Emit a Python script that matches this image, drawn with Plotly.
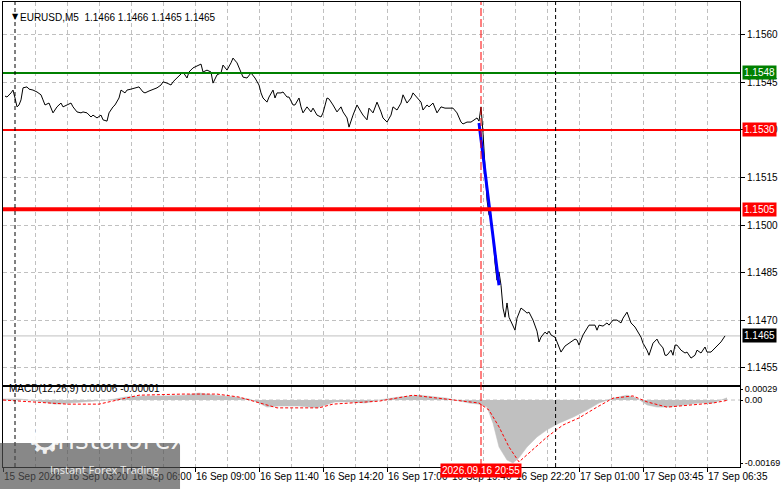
import plotly.graph_objects as go

# EURUSD M5, close prices; x = bar number from the left edge
price_points = [
    (1, 1.15407), (2, 1.15404), (4, 1.15417), (5, 1.15426), (6, 1.15401), (7, 1.15373),
    (8, 1.15379), (9, 1.15395), (10, 1.15433), (12, 1.15436), (13, 1.15429), (15, 1.15426),
    (17, 1.15420), (19, 1.15411), (20, 1.15395), (21, 1.15379), (23, 1.15385), (24, 1.15369),
    (25, 1.15354), (27, 1.15373), (29, 1.15385), (30, 1.15373), (32, 1.15379), (34, 1.15385),
    (35, 1.15373), (37, 1.15357), (39, 1.15354), (40, 1.15357), (42, 1.15354), (44, 1.15341),
    (45, 1.15347), (47, 1.15338), (49, 1.15347), (50, 1.15332), (52, 1.15328), (53, 1.15354),
    (55, 1.15373), (56, 1.15379), (58, 1.15401), (59, 1.15426), (61, 1.15417), (62, 1.15426),
    (64, 1.15429), (66, 1.15433), (68, 1.15436), (70, 1.15420), (71, 1.15417), (73, 1.15423),
    (75, 1.15429), (77, 1.15433), (79, 1.15442), (80, 1.15452), (82, 1.15448), (84, 1.15442),
    (85, 1.15452), (87, 1.15464), (89, 1.15474), (90, 1.15483), (92, 1.15464), (93, 1.15483),
    (95, 1.15496), (97, 1.15502), (99, 1.15508), (100, 1.15483), (102, 1.15489), (104, 1.15483),
    (105, 1.15448), (107, 1.15474), (109, 1.15480), (110, 1.15505), (112, 1.15489), (114, 1.15512),
    (115, 1.15527), (117, 1.15512), (119, 1.15483), (120, 1.15467), (122, 1.15464), (124, 1.15480),
    (126, 1.15464), (128, 1.15442), (129, 1.15417), (130, 1.15401), (132, 1.15388), (133, 1.15404),
    (135, 1.15426), (136, 1.15401), (137, 1.15417), (139, 1.15417), (140, 1.15420), (142, 1.15404),
    (143, 1.15404), (145, 1.15379), (146, 1.15379), (148, 1.15401), (149, 1.15373), (150, 1.15354),
    (152, 1.15373), (154, 1.15357), (155, 1.15369), (157, 1.15347), (159, 1.15341), (160, 1.15354),
    (162, 1.15401), (163, 1.15398), (165, 1.15379), (167, 1.15357), (169, 1.15373), (170, 1.15357),
    (172, 1.15338), (173, 1.15309), (175, 1.15347), (177, 1.15379), (179, 1.15357), (180, 1.15347),
    (182, 1.15332), (183, 1.15369), (185, 1.15354), (186, 1.15369), (187, 1.15388), (189, 1.15357),
    (190, 1.15338), (192, 1.15325), (194, 1.15347), (195, 1.15373), (197, 1.15363), (199, 1.15385),
    (200, 1.15411), (202, 1.15385), (204, 1.15401), (205, 1.15417), (207, 1.15404), (209, 1.15388),
    (210, 1.15363), (212, 1.15379), (213, 1.15373), (215, 1.15385), (217, 1.15354), (219, 1.15373),
    (221, 1.15369), (223, 1.15369), (225, 1.15369), (227, 1.15354), (229, 1.15325), (230, 1.15319),
    (232, 1.15325), (234, 1.15325), (236, 1.15332), (237, 1.15338), (238, 1.15328), (239, 1.15373),
    (240, 1.15291), (241, 1.15167), (242, 1.15079), (243, 1.15032), (244, 1.15022), (245, 1.14969),
    (246, 1.14880), (247, 1.14826), (248, 1.14852), (249, 1.14810), (250, 1.14738), (251, 1.14709),
    (252, 1.14754), (253, 1.14709), (255, 1.14681), (256, 1.14668), (257, 1.14706), (259, 1.14738),
    (261, 1.14728), (262, 1.14722), (263, 1.14725), (265, 1.14700), (267, 1.14665), (268, 1.14631),
    (269, 1.14646), (271, 1.14662), (272, 1.14656), (273, 1.14665), (274, 1.14653), (276, 1.14646),
    (277, 1.14631), (279, 1.14599), (281, 1.14618), (283, 1.14627), (286, 1.14640), (287, 1.14637),
    (288, 1.14621), (290, 1.14653), (292, 1.14672), (293, 1.14684), (296, 1.14684), (297, 1.14668),
    (298, 1.14684), (300, 1.14681), (302, 1.14691), (303, 1.14684), (305, 1.14700), (307, 1.14700),
    (309, 1.14691), (310, 1.14706), (312, 1.14725), (313, 1.14709), (314, 1.14691), (316, 1.14678),
    (317, 1.14668), (319, 1.14646), (320, 1.14627), (322, 1.14605), (323, 1.14589), (324, 1.14612),
    (325, 1.14627), (327, 1.14640), (328, 1.14627), (330, 1.14612), (331, 1.14589), (332, 1.14589),
    (334, 1.14605), (335, 1.14589), (336, 1.14621), (337, 1.14621), (339, 1.14605), (341, 1.14596),
    (342, 1.14599), (344, 1.14580), (346, 1.14589), (347, 1.14605), (349, 1.14596), (351, 1.14615),
    (352, 1.14599), (354, 1.14599), (356, 1.14612), (357, 1.14621), (359, 1.14631), (361, 1.14650),
]
price_bar, price_close = zip(*price_points)

# blue trend stroke over the sell-off
arrow_bar = [238, 248]
arrow_price = [1.15322, 1.14810]

# MACD(12,26,9): main line drawn as histogram, signal as dotted line
macd_points = [
    (0, 0.00003), (8, 0.00003), (18, -0.00003), (26, -0.00011), (33, -0.00008), (43, -0.00005),
    (53, 0.0), (61, 0.00008), (71, 0.00011), (81, 0.00011), (91, 0.00013), (98, 0.00019),
    (106, 0.00013), (116, 0.00008), (123, 0.00003), (128, -0.00008), (132, -0.00019), (138, -0.00016),
    (148, -0.00016), (157, -0.00021), (161, -0.00013), (166, -0.00005), (173, -0.00005), (181, -0.00008),
    (188, 0.0), (198, 0.00008), (208, 0.00013), (222, 0.00005), (233, -0.00008), (238, -0.00011),
    (242, -0.00019), (245, -0.00062), (248, -0.00126), (252, -0.00161), (255, -0.00169), (258, -0.00155),
    (262, -0.00126), (267, -0.00099), (272, -0.00080), (278, -0.00062), (285, -0.00046), (292, -0.00027),
    (298, -0.00008), (305, 0.00005), (312, 0.00013), (317, 0.00005), (322, -0.00013), (327, -0.00019),
    (333, -0.00019), (342, -0.00013), (348, -0.00008), (355, -0.00008), (362, 0.00006),
]
macd_bar, macd_main = zip(*macd_points)

signal_points = [
    (0, 0.0), (15, -0.00005), (32, -0.00011), (48, -0.00011), (57, 0.0), (68, 0.00013),
    (90, 0.00016), (107, 0.00016), (118, 0.00008), (128, -0.00008), (137, -0.00021), (148, -0.00021),
    (158, -0.00021), (165, -0.00011), (182, -0.00005), (188, -0.00003), (205, 0.00013), (222, 0.00003),
    (238, -0.00008), (243, -0.00027), (248, -0.00072), (253, -0.00126), (258, -0.00166), (263, -0.00142),
    (272, -0.00099), (280, -0.00067), (288, -0.00048), (297, -0.00019), (305, 0.00005), (315, 0.00011),
    (322, -0.00005), (332, -0.00019), (343, -0.00013), (355, -0.00008), (362, -0.00001),
]
signal_bar, signal_value = zip(*signal_points)

# horizontal levels: (price, colour, width)
levels = [(1.1548, '#008000', 2), (1.1530, '#ff0000', 2), (1.1505, '#ff0000', 4)]
bid_price = 1.1465

price_ticks = [1.1560, 1.1545, 1.1530, 1.1515, 1.1500, 1.1485, 1.1470, 1.1455]
macd_ticks = [0.00029, 0.0, -0.00169]
macd_tick_text = ['0.00029', '0.00', '-0.00169']

time_bars = [0, 32, 64, 96, 128, 160, 192, 224, 256, 288, 320, 352]
time_labels = ['15 Sep 2026', '16 Sep 03:20', '16 Sep 06:00', '16 Sep 09:00', '16 Sep 11:40',
               '16 Sep 14:20', '16 Sep 17:00', '16 Sep 19:40', '16 Sep 22:20', '17 Sep 01:00',
               '17 Sep 03:45', '17 Sep 06:35']

signal_bar_marker = 239          # red vertical line, 2026.09.16 20:55
crosshair_bars = [6, 276.3]      # black dashed verticals

FONT = 'Liberation Sans'
GRID = '#c0c0c0'

fig = go.Figure()

fig.add_trace(go.Scatter(x=price_bar, y=price_close, mode='lines',
                         line=dict(color='black', width=1), xaxis='x', yaxis='y'))
fig.add_trace(go.Scatter(x=arrow_bar, y=arrow_price, mode='lines',
                         line=dict(color='#0000ff', width=3), xaxis='x', yaxis='y'))
fig.add_trace(go.Scatter(x=macd_bar, y=macd_main, mode='lines', fill='tozeroy',
                         fillcolor='#c0c0c0', line=dict(color='#c0c0c0', width=0.5),
                         xaxis='x2', yaxis='y2'))
fig.add_trace(go.Scatter(x=signal_bar, y=signal_value, mode='lines',
                         line=dict(color='#ff0000', width=1, dash='3px,2px'),
                         xaxis='x2', yaxis='y2'))

shapes = []
shapes.append(dict(type='line', xref='paper', x0=0, x1=1, yref='y', y0=bid_price, y1=bid_price,
                   line=dict(color='#c0c0c0', width=1), layer='below'))
# MACD zero level
shapes.append(dict(type='line', xref='paper', x0=0, x1=1, yref='y2', y0=0, y1=0,
                   line=dict(color=GRID, width=1, dash='4px,3px'), layer='below'))
for price, color, width in levels:
    shapes.append(dict(type='line', xref='paper', x0=0, x1=1, yref='y', y0=price, y1=price,
                       line=dict(color=color, width=width), layer='above'))
for b in crosshair_bars:
    shapes.append(dict(type='line', xref='x', x0=b, x1=b, yref='paper', y0=0, y1=1,
                       line=dict(color='black', width=1, dash='4px,3px')))
shapes.append(dict(type='line', xref='x', x0=signal_bar_marker, x1=signal_bar_marker,
                   yref='paper', y0=0, y1=1, line=dict(color='#ff0000', width=1, dash='8px,3px')))
# watermark box
shapes.append(dict(type='rect', xref='paper', yref='paper', x0=-0.005, x1=0.2402,
                   y0=-0.05, y1=0.0516, fillcolor='rgba(80,80,80,0.68)',
                   line=dict(width=0), layer='above'))

annotations = [
    dict(text='▼', xref='paper', yref='paper', x=0.0095, y=0.9828, showarrow=False,
         font=dict(family='DejaVu Sans', size=8, color='black')),
    dict(text='EURUSD,M5  1.1466 1.1466 1.1465 1.1465', xref='paper', yref='paper',
         x=0.0204, y=0.9828, xanchor='left', showarrow=False,
         font=dict(family=FONT, size=10, color='black')),
    dict(text='MACD(12,26,9) 0.00006 -0.00001', xref='paper', yref='paper',
         x=0.006, y=0.1527, xanchor='left', showarrow=False,
         font=dict(family=FONT, size=10, color='black')),
    dict(text='2026.09.16 20:55', xref='x2', yref='paper', x=signal_bar_marker, y=-0.0226,
         showarrow=False, bgcolor='#ff0000', borderpad=1,
         font=dict(family=FONT, size=10, color='white')),
]
label_colors = {1.1548: '#008000', 1.1530: '#ff0000', 1.1505: '#ff0000'}
for price, color in label_colors.items():
    annotations.append(dict(text=f'{price:.4f}', xref='paper', yref='y', x=1, y=price,
                            xanchor='left', xshift=2, showarrow=False, bgcolor=color,
                            borderpad=1, font=dict(family=FONT, size=10, color='white')))
annotations.append(dict(text=f'{bid_price:.4f}', xref='paper', yref='y', x=1, y=bid_price,
                        xanchor='left', xshift=2, showarrow=False, bgcolor='black',
                        borderpad=1, font=dict(family=FONT, size=10, color='white')))
# watermark text
annotations += [
    dict(text='⚙', xref='paper', yref='paper', x=0.0299, y=0.006, showarrow=False,
         font=dict(family='DejaVu Sans', size=40, color='rgba(255,255,255,0.9)')),
    dict(text='instaforex', xref='paper', yref='paper', x=0.0611, y=0.0172, xanchor='left',
         showarrow=False, font=dict(family='Open Sans', size=29, color='rgba(255,255,255,0.92)')),
    dict(text='Instant Forex Trading', xref='paper', yref='paper', x=0.0611, y=-0.0258,
         xanchor='left', showarrow=False,
         font=dict(family='Open Sans', size=11, color='rgba(255,255,255,0.85)')),
]

axis_font = dict(family=FONT, size=10, color='black')
xgrid = dict(showgrid=True, gridcolor=GRID, griddash='4px,3px', gridwidth=1,
             minor=dict(dtick=16, tick0=0, showgrid=True, gridcolor=GRID,
                        griddash='4px,3px', ticklen=0))

fig.update_layout(
    width=781, height=489,
    margin=dict(l=3, r=41, t=2, b=22),
    paper_bgcolor='white', plot_bgcolor='white',
    showlegend=False,
    font=axis_font,
    xaxis=dict(domain=[0, 1], range=[0, 368.5], anchor='y', tickmode='array',
               tickvals=time_bars, showticklabels=False, ticks='', zeroline=False,
               automargin=False, showline=True, mirror=True, linecolor='black',
               linewidth=1, **xgrid),
    xaxis2=dict(domain=[0, 1], range=[0, 368.5], matches='x', anchor='y2', tickmode='array',
                tickvals=time_bars, ticktext=time_labels, ticks='outside', ticklen=4,
                tickcolor='black', ticklabelposition='outside right', tickangle=0,
                tickfont=axis_font, zeroline=False, automargin=False, showline=True,
                mirror=True, linecolor='black', linewidth=1, **xgrid),
    yaxis=dict(domain=[0.1763, 1], range=[1.14495, 1.15704], side='right', anchor='x',
               tickmode='array', tickvals=price_ticks, tickformat='.4f', ticks='outside',
               ticklen=4, tickcolor='black', tickfont=axis_font, showgrid=True,
               gridcolor=GRID, griddash='4px,3px', zeroline=False, automargin=False,
               showline=True, mirror=True, linecolor='black', linewidth=1),
    yaxis2=dict(domain=[0, 0.172], range=[-0.001796, 0.000349], side='right', anchor='x2',
                tickmode='array', tickvals=macd_ticks, ticktext=macd_tick_text,
                ticks='outside', ticklen=2, ticklabelstandoff=0, tickcolor='black',
                tickfont=dict(family=FONT, size=9, color='black'),
                showgrid=False, zeroline=False, automargin=False, showline=True,
                mirror=True, linecolor='black', linewidth=1),
    shapes=shapes,
    annotations=annotations,
)

# the page body has a default 8px margin; drop it so the chart sits at the window corner
fig.write_html('out.html', config={'displayModeBar': False},
               post_script="document.body.style.margin='0';"
                           "document.body.style.overflow='hidden';")
